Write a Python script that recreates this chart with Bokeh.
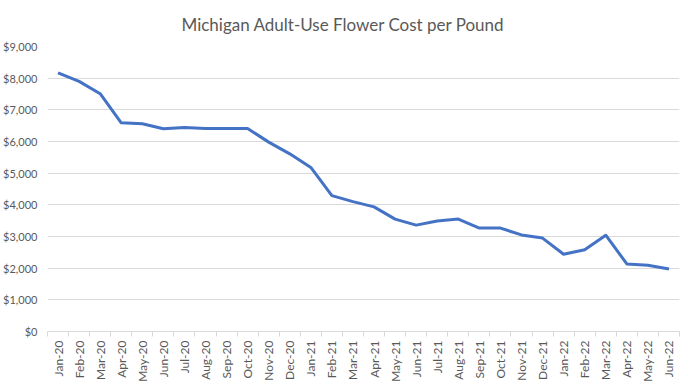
import math
from bokeh.plotting import figure
from bokeh.models import FixedTicker, NumeralTickFormatter, ColumnDataSource, Range1d, Title
from bokeh.embed import file_html
from bokeh.resources import INLINE

months = ["Jan-20", "Feb-20", "Mar-20", "Apr-20", "May-20", "Jun-20", "Jul-20", "Aug-20",
          "Sep-20", "Oct-20", "Nov-20", "Dec-20", "Jan-21", "Feb-21", "Mar-21", "Apr-21",
          "May-21", "Jun-21", "Jul-21", "Aug-21", "Sep-21", "Oct-21", "Nov-21", "Dec-21",
          "Jan-22", "Feb-22", "Mar-22", "Apr-22", "May-22", "Jun-22"]
cost = [8170, 7900, 7510, 6590, 6560, 6400, 6440, 6410, 6410, 6410, 5980, 5610,
        5180, 4290, 4100, 3935, 3550, 3360, 3490, 3550, 3265, 3265, 3050, 2950,
        2440, 2580, 3040, 2135, 2095, 1975]
y_ticks = [0, 1000, 2000, 3000, 4000, 5000, 6000, 7000, 8000, 9000]

pos = [i + 0.5 for i in range(len(months))]
src = ColumnDataSource(dict(x=pos, y=cost, m=months))

p = figure(frame_width=632, frame_height=285, output_backend="svg", toolbar_location=None,
           x_range=Range1d(0, len(months)), y_range=Range1d(0, 9000),
           min_border_left=47, min_border_right=5, min_border_top=0, min_border_bottom=47)
p.outline_line_color = None
p.background_fill_color = "white"
p.border_fill_color = "white"

title = Title(text="Michigan Adult-Use Flower Cost per Pound", align="left", offset=134,
              text_font="Lato", text_font_size="17px", text_font_style="normal",
              text_color="#595959", standoff=23)
p.add_layout(title, "above")

p.line("x", "y", source=src, line_color="#4472C4", line_width=3, line_join="round")

# y axis
p.yaxis.ticker = FixedTicker(ticks=y_ticks)
p.yaxis.formatter = NumeralTickFormatter(format="$0,0")
p.yaxis.axis_line_color = None
p.yaxis.major_tick_line_color = None
p.yaxis.minor_tick_line_color = None
p.yaxis.major_tick_in = 0
p.yaxis.major_tick_out = 0
p.yaxis.major_label_text_font = "Lato"
p.yaxis.major_label_text_font_size = "11px"
p.yaxis.major_label_text_color = "#595959"
p.yaxis.major_label_standoff = 10
p.ygrid.grid_line_color = "#d9d9d9"
p.ygrid.ticker = FixedTicker(ticks=y_ticks)

# x axis
p.xaxis.ticker = FixedTicker(ticks=pos, minor_ticks=list(range(len(months) + 1)))
p.xaxis.major_label_overrides = {x: m for x, m in zip(pos, months)}
p.xaxis.major_label_orientation = math.pi / 2
p.xaxis.axis_line_color = "#d9d9d9"
p.xaxis.major_tick_line_color = None
p.xaxis.major_tick_in = 0
p.xaxis.major_tick_out = 0
p.xaxis.minor_tick_line_color = "#d9d9d9"
p.xaxis.minor_tick_out = 5
p.xaxis.minor_tick_in = 0
p.xaxis.major_label_text_font = "Lato"
p.xaxis.major_label_text_font_size = "12px"
p.xaxis.major_label_text_color = "#595959"
p.xaxis.major_label_standoff = 4
p.xgrid.grid_line_color = None

open("out.html", "w").write(file_html(p, INLINE))
